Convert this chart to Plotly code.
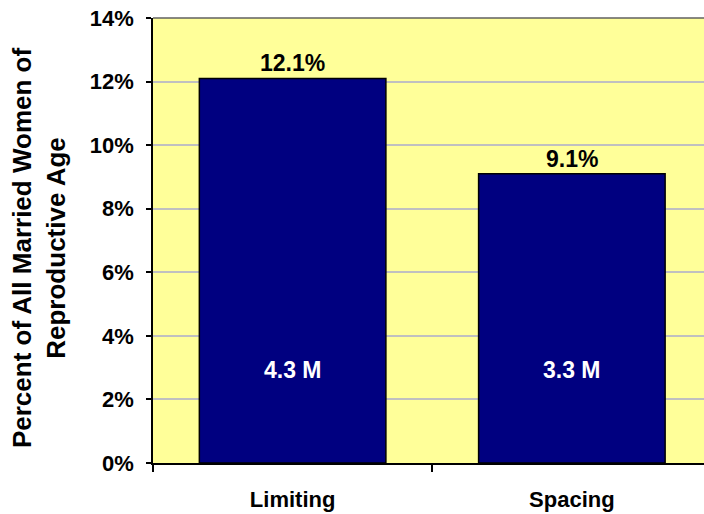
import plotly.graph_objects as go

categories = ["Limiting", "Spacing"]
percent_values = [0.121, 0.091]
millions_labels = ["4.3 M", "3.3 M"]
percent_labels = ["12.1%", "9.1%"]
y_ticks = [0, 0.02, 0.04, 0.06, 0.08, 0.10, 0.12, 0.14]
y_title = "Percent of All Married Women of<br>Reproductive Age"

FONT = "Liberation Sans, Arial, sans-serif"

fig = go.Figure()
fig.add_trace(go.Bar(
    x=categories, y=percent_values, width=0.668,
    marker=dict(color="#000080", line=dict(color="black", width=1.5)),
    hoverinfo="skip",
))

annotations = []
for c, v, pl, ml in zip(categories, percent_values, percent_labels, millions_labels):
    annotations.append(dict(x=c, y=v, text="<b>%s</b>" % pl, showarrow=False,
                            yanchor="bottom", yshift=0,
                            font=dict(family=FONT, size=23, color="black")))
    annotations.append(dict(x=c, y=0.03, text="<b>%s</b>" % ml, showarrow=False,
                            yanchor="middle", yshift=-2,
                            font=dict(family=FONT, size=23, color="white")))
annotations.append(dict(xref="paper", yref="paper", x=(39 - 153) / 551, y=0.483,
                        text="<b>%s</b>" % y_title, showarrow=False, textangle=-90,
                        xanchor="center", yanchor="middle",
                        font=dict(family=FONT, size=26, color="black")))

fig.update_layout(
    width=704, height=514,
    margin=dict(l=153, r=0, t=18, b=51),
    paper_bgcolor="white", plot_bgcolor="#FFFF99",
    showlegend=False,
    annotations=annotations,
    font=dict(family=FONT, color="black"),
    shapes=[dict(type="line", xref="paper", yref="paper", x0=0, x1=1, y0=1, y1=1,
                 line=dict(color="#606060", width=1.5))],
    xaxis=dict(range=[-0.5, 1.4732], showgrid=False, showline=True, linecolor="black",
               linewidth=1.5, ticks="outside", tickson="boundaries", ticklen=7,
               tickcolor="black", tickwidth=1.5, ticklabelstandoff=16,
               tickfont=dict(family=FONT, size=22, color="black", weight="bold")),
    yaxis=dict(range=[0, 0.14], tickvals=y_ticks, tickformat=".0%", showgrid=True,
               gridcolor="#C0C0C0", gridwidth=1.5, showline=True, linecolor="black",
               linewidth=1.5, ticks="outside", ticklen=5, tickcolor="black", tickwidth=1.5,
               zeroline=False, ticklabelstandoff=8, ticklabeloverflow="allow",
               tickfont=dict(family=FONT, size=22, color="black", weight="bold")),
)

fig.write_html(
    "out.html",
    config={"displayModeBar": False},
    post_script="document.body.style.margin='0';document.body.style.overflow='hidden';",
)
